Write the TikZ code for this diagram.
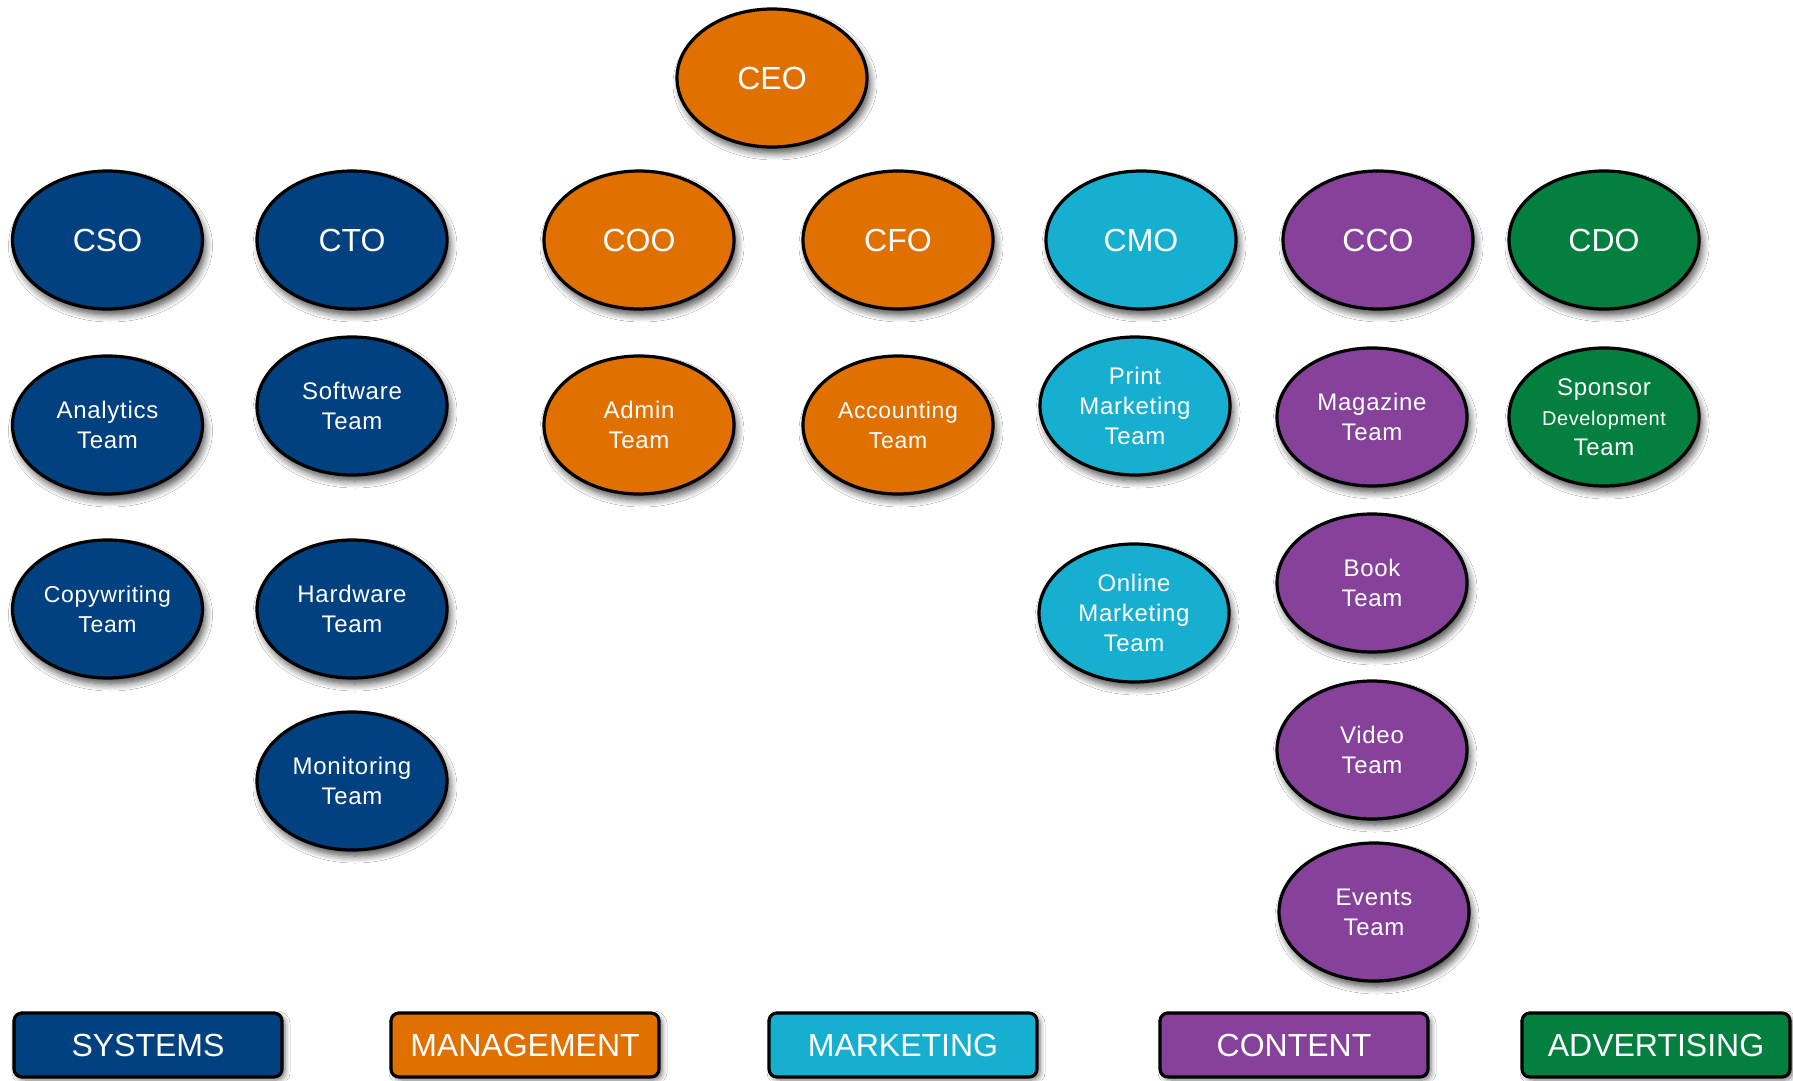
\documentclass[tikz,border=0pt]{standalone}
\usepackage{fontspec}
\setmainfont{Liberation Sans}
\usetikzlibrary{shapes.geometric,shadows.blur}
\definecolor{sysblue}{HTML}{02417F}
\definecolor{mgmtorange}{HTML}{E07000}
\definecolor{mktcyan}{HTML}{17AFD0}
\definecolor{cntpurple}{HTML}{86419A}
\definecolor{advgreen}{HTML}{03803F}
\begin{document}
\begin{tikzpicture}[x=0.5pt,y=-0.5pt,
  org/.style={ellipse, draw=black, line width=1.6pt, minimum width=95pt, minimum height=69pt,
    inner sep=0pt, text=white, align=center,
    blur shadow={shadow xshift=1.5pt, shadow yshift=-3pt, shadow blur radius=3.5pt,
      shadow opacity=70, shadow blur steps=8}},
  big/.style={font=\fontsize{16}{19}\selectfont},
  team/.style={font=\fontsize{12}{15}\selectfont\addfontfeature{LetterSpace=3}},
  smallteam/.style={font=\fontsize{11.5}{15}\selectfont\addfontfeature{LetterSpace=3}},
  legend/.style={rectangle, rounded corners=4pt, draw=black, line width=1.6pt,
    minimum width=134pt, minimum height=32pt, inner sep=0pt, text=white,
    font=\fontsize{16}{19}\selectfont,
    blur shadow={shadow xshift=1.5pt, shadow yshift=-1.5pt, shadow blur radius=2.5pt,
      shadow opacity=55, shadow blur steps=6}},
  sys/.style={fill=sysblue}, mgmt/.style={fill=mgmtorange}, mkt/.style={fill=mktcyan},
  cnt/.style={fill=cntpurple}, adv/.style={fill=advgreen}]
\useasboundingbox (0,0) rectangle (1793,1081);
\fill[white] (0,0) rectangle (1793,1081);
% top
\node[org,mgmt,big] (ceo) at (772,78) {CEO};
% row 1
\node[org,sys,big] (cso) at (107.5,240) {CSO};
\node[org,sys,big] (cto) at (352,240) {CTO};
\node[org,mgmt,big] (coo) at (639,240) {COO};
\node[org,mgmt,big] (cfo) at (898,240) {CFO};
\node[org,mkt,big] (cmo) at (1141,240) {CMO};
\node[org,cnt,big] (cco) at (1378,240) {CCO};
\node[org,adv,big] (cdo) at (1604,240) {CDO};
% row 2
\node[org,sys,team] (analytics) at (107.5,425) {Analytics\\Team};
\node[org,sys,team] (software) at (352,406) {Software\\Team};
\node[org,mgmt,team] (admin) at (639,425) {Admin\\Team};
\node[org,mgmt,smallteam] (accounting) at (898,425) {Accounting\\Team};
\node[org,mkt,team] (print) at (1135,406) {Print\\Marketing\\Team};
\node[org,cnt,team] (magazine) at (1372,417) {Magazine\\Team};
\node[org,adv,team] (sponsor) at (1604,417) {Sponsor\\{\fontsize{10}{12}\selectfont Development}\\Team};
% row 3
\node[org,sys,smallteam] (copywriting) at (107.5,609) {Copywriting\\Team};
\node[org,sys,team] (hardware) at (352,609) {Hardware\\Team};
\node[org,mkt,team] (online) at (1134,613) {Online\\Marketing\\Team};
\node[org,cnt,team] (book) at (1372,583) {Book\\Team};
% row 4
\node[org,sys,team] (monitoring) at (352,781) {Monitoring\\Team};
\node[org,cnt,team] (video) at (1372,750) {Video\\Team};
% row 5
\node[org,cnt,team] (events) at (1374,912) {Events\\Team};
% legend
\node[legend,sys] (lsys) at (148,1045) {SYSTEMS};
\node[legend,mgmt] (lmgmt) at (525,1045) {MANAGEMENT};
\node[legend,mkt] (lmkt) at (903,1045) {MARKETING};
\node[legend,cnt] (lcnt) at (1294,1045) {CONTENT};
\node[legend,adv] (ladv) at (1656,1045) {ADVERTISING};
\end{tikzpicture}
\end{document}
